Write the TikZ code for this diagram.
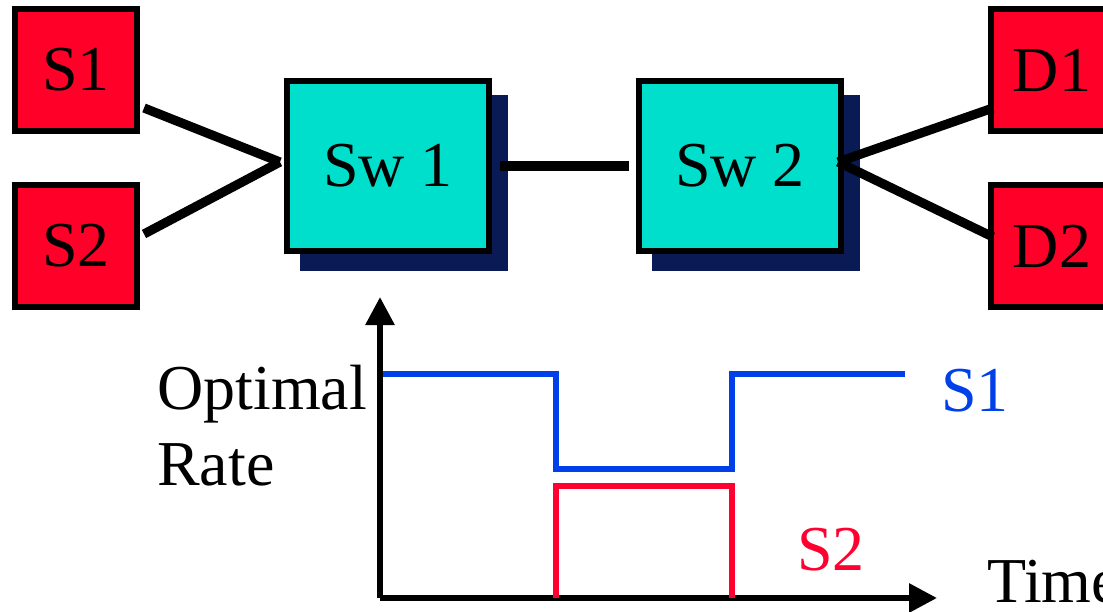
\documentclass[tikz,border=0pt]{standalone}
\usepackage{fontspec}
\setmainfont{Liberation Serif}
\usetikzlibrary{arrows.meta,positioning,shadows}

\definecolor{hostred}{RGB}{255,0,40}
\definecolor{swteal}{RGB}{0,222,204}
\definecolor{swshade}{RGB}{10,26,85}
\definecolor{rateblue}{RGB}{0,64,232}
\definecolor{ratered}{RGB}{255,0,48}

\tikzset{
  bigfont/.style={font=\fontsize{45.5}{53.4}\selectfont},
  hostbox/.style={draw, line width=0.14cm, fill=hostred, inner sep=0pt,
    minimum width=3.06cm, minimum height=3.06cm, bigfont},
  swbox/.style={draw, line width=0.14cm, fill=swteal, inner sep=0pt,
    minimum width=5.06cm, minimum height=4.26cm, bigfont,
    drop shadow={shadow xshift=0.4cm, shadow yshift=-0.425cm,
      fill=swshade, draw=swshade, opacity=1}},
  link/.style={line width=0.23cm},
  rate/.style={line width=0.14cm},
}

\begin{document}
\begin{tikzpicture}[x=0.025cm, y=-0.025cm, >={Triangle[length=0.7cm, width=0.7cm]}]
\useasboundingbox (0,0) rectangle (1103,611);

% Sources and destinations
\node[hostbox] (S1) at (76,70) {S1};
\node[hostbox] (S2) at (76,246) {S2};
\node[hostbox] (D1) at (1052,70) {D1};
\node[hostbox] (D2) at (1052,246) {D2};

% Switches
\node[swbox] (Sw1) at (388,166) {Sw 1};
\node[swbox] (Sw2) at (740,166) {Sw 2};

% Links
\draw[link] ([shift={(4,38)}]S1.east) -- ([shift={(-4,-4)}]Sw1.west);
\draw[link] ([shift={(4,-12)}]S2.east) -- ([shift={(-4,-4)}]Sw1.west);
\draw[line width=0.26cm] ([xshift=6]Sw1.east) -- ([xshift=-5]Sw2.west);
\draw[link] ([shift={(-6,-4)}]Sw2.east) -- ([shift={(5,38)}]D1.west);
\draw[link] ([shift={(-6,-4)}]Sw2.east) -- ([shift={(5,-9)}]D2.west);

% Axes
\coordinate (O) at (380,598);
\draw[line width=0.15cm, ->] (O) -- (380,297);
\draw[line width=0.15cm, ->] (O) -- (937,598);

% Rate curves
\draw[rate, rateblue] (383,374) -- (556,374) -- (556,469) -- (732,469) -- (732,374) -- (905,374);
\draw[rate, ratered] (556,598) -- (556,486) -- (732,486) -- (732,598);

% Labels
\node[bigfont, anchor=base west, inner sep=0pt, align=left] (ylab) at (157,485) {Optimal\\Rate};
\node[bigfont, anchor=base west, inner sep=0pt, rateblue] (s1lab) at (941,411) {S1};
\node[bigfont, anchor=base west, inner sep=0pt, ratered] (s2lab) at (797,570) {S2};
\node[bigfont, anchor=base west, inner sep=0pt] (xlab) at (987,602) {Time};
\end{tikzpicture}
\end{document}
